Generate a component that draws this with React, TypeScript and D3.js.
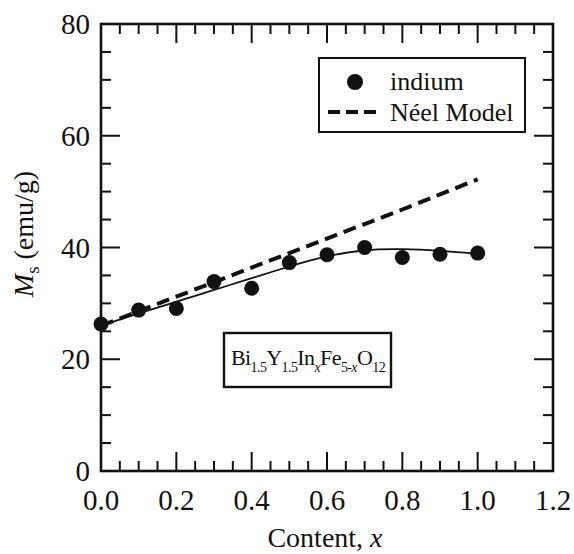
import React from "react";
import * as d3 from "d3";

const contentX = [0.0, 0.1, 0.2, 0.3, 0.4, 0.5, 0.6, 0.7, 0.8, 0.9, 1.0];
const indiumMs = [26.3, 28.8, 29.1, 33.9, 32.7, 37.3, 38.7, 40.0, 38.2, 38.8, 39.0];
const neelMs = [26.0, 28.6, 31.2, 33.8, 36.4, 39.0, 41.6, 44.2, 46.8, 49.5, 52.2];
const fitMs = [26.0, 28.2, 30.3, 32.4, 34.5, 36.6, 38.4, 39.5, 39.7, 39.4, 38.9];

const xTicks = [0, 0.2, 0.4, 0.6, 0.8, 1.0, 1.2];
const xTickLabels = ["0.0", "0.2", "0.4", "0.6", "0.8", "1.0", "1.2"];
const yTicks = [0, 20, 40, 60, 80];
const yTickLabels = ["0", "20", "40", "60", "80"];

const FONT = "Liberation Serif, Times New Roman, DejaVu Serif, serif";
const INK = "#111";

export default function App() {
  const left = 101, right = 553, top = 24, bottom = 471;
  const x = d3.scaleLinear().domain([0, 1.2]).range([left, right]);
  const y = d3.scaleLinear().domain([0, 80]).range([bottom, top]);

  const xMinor = d3.range(0, 1.2001, 0.05).filter((v) => Math.abs(v / 0.2 - Math.round(v / 0.2)) > 1e-6);
  const yMinor = d3.range(0, 80.001, 5).filter((v) => v % 20 !== 0);

  const line = d3
    .line<number>()
    .x((_, i) => x(contentX[i]))
    .y((d) => y(d));
  const fitPath = d3
    .line<number>()
    .x((_, i) => x(contentX[i]))
    .y((d) => y(d))
    .curve(d3.curveNatural)(fitMs);
  const neelPath = line(neelMs);

  const MAJ = 19, MIN = 10;
  const tf = { fontFamily: FONT };

  return (
    <svg
      width={574}
      height={554}
      style={{ position: "absolute", left: 0, top: 0, background: "#fff", fontFamily: FONT }}
    >
      <rect x={0} y={0} width={574} height={554} fill="#fff" />
      {/* ticks */}
      <g stroke={INK} strokeWidth={2}>
        {xTicks.map((v) => (
          <g key={"xt" + v}>
            <line x1={x(v)} x2={x(v)} y1={bottom} y2={bottom - MAJ} />
            <line x1={x(v)} x2={x(v)} y1={top} y2={top + MAJ} />
          </g>
        ))}
        {xMinor.map((v) => (
          <g key={"xm" + v}>
            <line x1={x(v)} x2={x(v)} y1={bottom} y2={bottom - MIN} />
            <line x1={x(v)} x2={x(v)} y1={top} y2={top + MIN} />
          </g>
        ))}
        {yTicks.map((v) => (
          <g key={"yt" + v}>
            <line x1={left} x2={left + MAJ} y1={y(v)} y2={y(v)} />
            <line x1={right} x2={right - MAJ} y1={y(v)} y2={y(v)} />
          </g>
        ))}
        {yMinor.map((v) => (
          <g key={"ym" + v}>
            <line x1={left} x2={left + MIN} y1={y(v)} y2={y(v)} />
            <line x1={right} x2={right - MIN} y1={y(v)} y2={y(v)} />
          </g>
        ))}
      </g>
      <rect x={left} y={top} width={right - left} height={bottom - top} fill="none" stroke={INK} strokeWidth={2.6} />

      {/* tick labels */}
      {xTicks.map((v, i) => (
        <text key={"xl" + v} x={x(v)} y={510} textAnchor="middle" fontSize={29} fill={INK} style={tf}>
          {xTickLabels[i]}
        </text>
      ))}
      {yTicks.map((v, i) => (
        <text key={"yl" + v} x={90} y={y(v) + 10} textAnchor="end" fontSize={29} fill={INK} style={tf}>
          {yTickLabels[i]}
        </text>
      ))}

      {/* axis titles */}
      <text x={325} y={547} textAnchor="middle" fontSize={28} fill={INK} style={tf}>
        Content, <tspan fontStyle="italic">x</tspan>
      </text>
      <text transform="translate(33,234) rotate(-90)" textAnchor="middle" fontSize={28} fill={INK} style={tf}>
        <tspan fontStyle="italic">M</tspan>
        <tspan fontSize={19} dy={6}>s</tspan>
        <tspan dy={-6}> (emu/g)</tspan>
      </text>

      {/* Néel model */}
      <path d={neelPath || ""} fill="none" stroke={INK} strokeWidth={4} strokeDasharray="13,7" />
      {/* fit */}
      <path d={fitPath || ""} fill="none" stroke={INK} strokeWidth={1.8} />
      {/* points */}
      {indiumMs.map((v, i) => (
        <circle key={"p" + i} cx={x(contentX[i])} cy={y(v)} r={7.5} fill={INK} />
      ))}

      {/* legend */}
      <rect x={319} y={58} width={206} height={74} fill="#fff" stroke={INK} strokeWidth={2} />
      <circle cx={355} cy={82} r={8} fill={INK} />
      <text x={390} y={90} fontSize={26} fill={INK} style={tf}>indium</text>
      <line x1={328} x2={380} y1={112} y2={112} stroke={INK} strokeWidth={4} strokeDasharray="12,6" />
      <text x={390} y={121} fontSize={26} fill={INK} style={tf}>Néel Model</text>

      {/* formula box */}
      <rect x={224} y={333} width={167} height={54} fill="#fff" stroke={INK} strokeWidth={2.4} />
      <text x={231} y={365} fontSize={22} fill={INK} style={{ ...tf, letterSpacing: "-0.6px" }}>
        Bi<tspan fontSize={14} dy={7}>1.5</tspan>
        <tspan dy={-7}>Y</tspan>
        <tspan fontSize={14} dy={7}>1.5</tspan>
        <tspan dy={-7}>In</tspan>
        <tspan fontSize={14} dy={7} fontStyle="italic">x</tspan>
        <tspan dy={-7}>Fe</tspan>
        <tspan fontSize={14} dy={7}>5-</tspan>
        <tspan fontSize={14} fontStyle="italic">x</tspan>
        <tspan dy={-7}>O</tspan>
        <tspan fontSize={14} dy={7}>12</tspan>
      </text>
    </svg>
  );
}
